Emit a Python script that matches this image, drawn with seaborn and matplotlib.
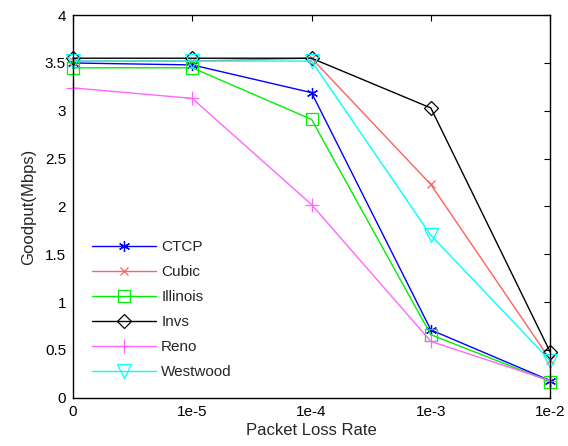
import matplotlib
matplotlib.use("Agg")
import matplotlib.pyplot as plt
import seaborn as sns
import pandas as pd

loss_rates = ["0", "1e-5", "1e-4", "1e-3", "1e-2"]
series_names = ["CTCP", "Cubic", "Illinois", "Invs", "Reno", "Westwood"]
ctcp = [3.50, 3.48, 3.19, 0.71, 0.18]
cubic = [3.52, 3.52, 3.55, 2.23, 0.40]
illinois = [3.45, 3.45, 2.91, 0.66, 0.17]
invs = [3.55, 3.55, 3.55, 3.03, 0.48]
reno = [3.24, 3.13, 2.02, 0.59, 0.18]
westwood = [3.52, 3.52, 3.52, 1.70, 0.39]
y_ticks = [0, 0.5, 1, 1.5, 2, 2.5, 3, 3.5, 4]
y_tick_labels = ["0", "0.5", "1", "1.5", "2", "2.5", "3", "3.5", "4"]

values = [ctcp, cubic, illinois, invs, reno, westwood]
rows = []
for name, vals in zip(series_names, values):
    for i, v in enumerate(vals):
        rows.append({"pos": i, "rate": loss_rates[i], "goodput": v, "alg": name})
df = pd.DataFrame(rows)

sns.set_style("white")
plt.rcParams["font.family"] = ["Liberation Sans", "DejaVu Sans"]

palette = {"CTCP": "#0000ff", "Cubic": "#ff6060", "Illinois": "#00ee00",
           "Invs": "#000000", "Reno": "#ff66ff", "Westwood": "#00ffff"}
markers = {"CTCP": (6, 2, 0), "Cubic": "x", "Illinois": "s",
           "Invs": "D", "Reno": "+", "Westwood": "v"}
msizes = {"CTCP": 8, "Cubic": 6, "Illinois": 8.5, "Invs": 7.5, "Reno": 10, "Westwood": 10.5}

fig = plt.figure(figsize=(5.68, 4.46), dpi=100)
ax = fig.add_axes([0.1285, 0.108, 0.84, 0.858])

for name in series_names:
    sub = df[df["alg"] == name]
    sns.lineplot(data=sub, x="pos", y="goodput", ax=ax, color=palette[name],
                 marker=markers[name], markersize=msizes[name],
                 markerfacecolor="none", markeredgecolor=palette[name],
                 markeredgewidth=0.9, linewidth=1.0, label=name, legend=False,
                 clip_on=False)

ax.set_xlim(0, 4)
ax.set_ylim(0, 4)
ax.set_xticks(range(len(loss_rates)))
ax.set_xticklabels(loss_rates)
ax.set_yticks(y_ticks)
ax.set_yticklabels(y_tick_labels)
ax.tick_params(direction="in", top=True, right=True, length=4, width=0.8,
               labelsize=11, colors="black", pad=5)
for s in ax.spines.values():
    s.set_color("black")
    s.set_linewidth(1.0)
ax.set_xlabel("Packet Loss Rate", fontsize=12, labelpad=3)
ax.set_ylabel("Goodput(Mbps)", fontsize=12, labelpad=6)

handles, labels = ax.get_legend_handles_labels()
ax.legend(handles, labels, loc="lower left", bbox_to_anchor=(0.02, 0.024),
          frameon=False, fontsize=11, handlelength=4.2, handletextpad=0.35,
          labelspacing=0.72, borderaxespad=0.2)

fig.savefig("out.png", dpi=100)
